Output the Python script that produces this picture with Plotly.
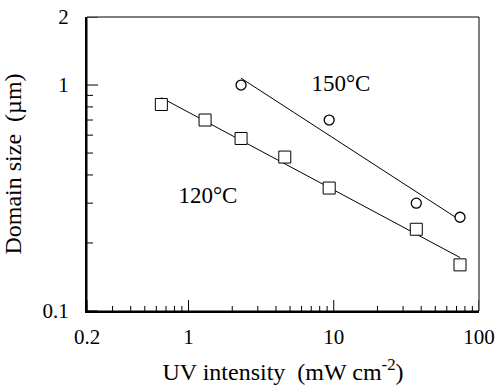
import numpy as np
import plotly.graph_objects as go

# Data
uv_120 = [0.65, 1.3, 2.3, 4.6, 9.3, 37, 74]
size_120 = [0.82, 0.70, 0.58, 0.48, 0.35, 0.23, 0.16]
uv_150 = [2.3, 9.3, 37, 74]
size_150 = [1.0, 0.70, 0.30, 0.26]

x_tickvals = [0.2, 1, 10, 100]
x_ticktext = ["0.2", "1", "10", "100"]
x_minor = [0.3, 0.4, 0.5, 0.6, 0.7, 0.8, 0.9, 2, 3, 4, 5, 6, 7, 8, 9,
           20, 30, 40, 50, 60, 70, 80, 90]
y_tickvals = [0.1, 1, 2]
y_ticktext = ["0.1", "1", "2"]
y_minor = [0.2, 0.3, 0.4, 0.5, 0.6, 0.7, 0.8, 0.9]

# series labels and where they sit (data coordinates)
label_text = ["150°C", "120°C"]
label_x = [11.2, 1.36]
label_y = [1.0, 0.32]

FONT = "Liberation Serif, Times New Roman, serif"

W, H = 499, 392
M = dict(l=87, r=20, t=17, b=81)
X_RANGE = [float(np.log10(0.2)), 2.0]
Y_RANGE = [-1.0, float(np.log10(2))]
MAJOR_LEN, MINOR_LEN_X, MINOR_LEN_Y = 11, 5, 6

# pixels per decade, from the layout size and axis ranges
x_dec_px = (W - M["l"] - M["r"]) / (X_RANGE[1] - X_RANGE[0])
y_dec_px = (H - M["t"] - M["b"]) / (Y_RANGE[1] - Y_RANGE[0])


def x_tick_segments(vals, length):
    base = 10 ** Y_RANGE[0]
    top = 10 ** (Y_RANGE[0] + length / y_dec_px)
    xs, ys = [], []
    for v in vals:
        xs += [v, v, None]
        ys += [base, top, None]
    return xs, ys


def y_tick_segments(vals, length):
    base = 10 ** X_RANGE[0]
    right = 10 ** (X_RANGE[0] + length / x_dec_px)
    xs, ys = [], []
    for v in vals:
        xs += [base, right, None]
        ys += [v, v, None]
    return xs, ys


def power_fit(x, y):
    lx, ly = np.log10(x), np.log10(y)
    k, b = np.polyfit(lx, ly, 1)
    xs = [min(x), max(x)]
    return xs, [float(10 ** (k * np.log10(v) + b)) for v in xs]


fig = go.Figure()

# inward tick marks, drawn through the axis scales
for xs, ys in (x_tick_segments(x_tickvals, MAJOR_LEN),
               x_tick_segments(x_minor, MINOR_LEN_X),
               y_tick_segments(y_tickvals, MAJOR_LEN),
               y_tick_segments(y_minor, MINOR_LEN_Y)):
    fig.add_trace(go.Scatter(x=xs, y=ys, mode="lines",
                             line=dict(color="black", width=1),
                             hoverinfo="skip", showlegend=False))

# fitted power-law lines
for xs, ys in (power_fit(uv_120, size_120), power_fit(uv_150, size_150)):
    fig.add_trace(go.Scatter(x=xs, y=ys, mode="lines",
                             line=dict(color="black", width=1),
                             hoverinfo="skip", showlegend=False))

fig.add_trace(go.Scatter(x=uv_120, y=size_120, mode="markers", name="120°C",
                         marker=dict(symbol="square", size=12, color="white",
                                     line=dict(color="black", width=1)),
                         showlegend=False))
fig.add_trace(go.Scatter(x=uv_150, y=size_150, mode="markers", name="150°C",
                         marker=dict(symbol="circle", size=10, color="white",
                                     line=dict(color="black", width=1.3)),
                         showlegend=False))
fig.add_trace(go.Scatter(x=label_x, y=label_y, mode="text", text=label_text,
                         textposition="middle center",
                         textfont=dict(family=FONT, size=23, color="black"),
                         hoverinfo="skip", showlegend=False))

# thin frame around the plot area (left/bottom are drawn thicker by the axis lines)
fig.add_shape(type="rect", xref="x domain", yref="y domain", x0=0, y0=0, x1=1, y1=1,
              line=dict(color="black", width=1))

fig.update_xaxes(type="log", range=X_RANGE,
                 tickmode="array", tickvals=x_tickvals, ticktext=x_ticktext,
                 ticks="", showline=True, linewidth=2, linecolor="black",
                 showgrid=False, zeroline=False, automargin=False,
                 ticklabelstandoff=6,
                 tickfont=dict(family=FONT, size=21, color="black"),
                 title=dict(text="UV intensity  (mW cm<sup>-2</sup>)",
                            font=dict(family=FONT, size=24, color="black")))
fig.update_yaxes(type="log", range=Y_RANGE,
                 tickmode="array", tickvals=y_tickvals, ticktext=y_ticktext,
                 ticks="", showline=True, linewidth=2, linecolor="black",
                 showgrid=False, zeroline=False, automargin=False,
                 ticklabelstandoff=12,
                 tickfont=dict(family=FONT, size=21, color="black"),
                 title=dict(text="Domain size  (µm)",
                            font=dict(family=FONT, size=24, color="black")))

fig.update_layout(width=W, height=H, margin=M,
                  paper_bgcolor="white", plot_bgcolor="white",
                  font=dict(family=FONT, color="black"))

fig.write_html("out.html")
